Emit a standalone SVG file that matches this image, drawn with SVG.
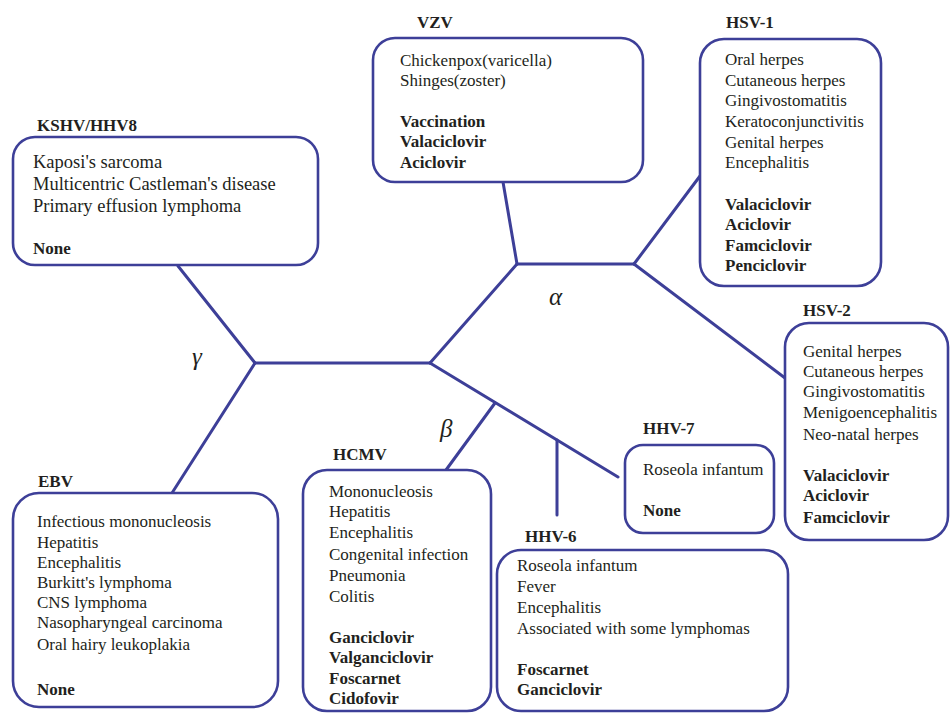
<svg xmlns="http://www.w3.org/2000/svg" width="951" height="714" viewBox="0 0 951 714">
<defs>
<style>
  .box { fill: #ffffff; stroke: #3d3f98; stroke-width: 2.6; }
  .edge { stroke: #3d3f98; stroke-width: 3; fill: none; stroke-linecap: round; }
</style>
</defs>
<rect width="951" height="714" fill="#ffffff"/>

<g id="connectors">
  <line class="edge" x1="178" y1="266" x2="255" y2="363"/>
  <line class="edge" x1="255" y1="363" x2="172" y2="493"/>
  <line class="edge" x1="255" y1="363" x2="430" y2="363"/>
  <line class="edge" x1="430" y1="363" x2="517" y2="264"/>
  <line class="edge" x1="517" y1="264" x2="503" y2="182"/>
  <line class="edge" x1="517" y1="264" x2="634" y2="264"/>
  <line class="edge" x1="634" y1="264" x2="700" y2="176"/>
  <line class="edge" x1="634" y1="264" x2="785" y2="378"/>
  <line class="edge" x1="430" y1="363" x2="618" y2="477"/>
  <line class="edge" x1="495" y1="403" x2="446" y2="470"/>
  <line class="edge" x1="557" y1="440" x2="557" y2="515"/>
</g>

<g id="greek-labels" fill="#231f20">
  <text x="192" y="365" font-family="Liberation Serif" font-size="25" font-style="italic">γ</text>
  <text x="549" y="305" font-family="Liberation Serif" font-size="25" font-style="italic">α</text>
  <text x="440" y="437" font-family="Liberation Serif" font-size="25" font-style="italic">β</text>
</g>

<g id="kshv" fill="#231f20">
  <text x="37" y="131" font-family="Liberation Serif" font-size="17" font-weight="bold">KSHV/HHV8</text>
  <rect class="box" x="13" y="137" width="305" height="128" rx="22"/>
  <text x="33" y="168" font-family="Liberation Serif" font-size="18.5">Kaposi's sarcoma</text>
  <text x="33" y="190" font-family="Liberation Serif" font-size="18.5">Multicentric Castleman's disease</text>
  <text x="33" y="212" font-family="Liberation Serif" font-size="18.5">Primary effusion lymphoma</text>
  <text x="33" y="254" font-family="Liberation Serif" font-size="17" font-weight="bold">None</text>
</g>

<g id="vzv" fill="#231f20">
  <text x="417" y="28" font-family="Liberation Serif" font-size="17" font-weight="bold">VZV</text>
  <rect class="box" x="373" y="38" width="270" height="144" rx="22"/>
  <text x="400" y="66" font-family="Liberation Serif" font-size="17">Chickenpox(varicella)</text>
  <text x="400" y="86" font-family="Liberation Serif" font-size="17">Shinges(zoster)</text>
  <text x="400" y="127" font-family="Liberation Serif" font-size="17" font-weight="bold">Vaccination</text>
  <text x="400" y="147" font-family="Liberation Serif" font-size="17" font-weight="bold">Valaciclovir</text>
  <text x="400" y="168" font-family="Liberation Serif" font-size="17" font-weight="bold">Aciclovir</text>
</g>

<g id="hsv1" fill="#231f20">
  <text x="726" y="28" font-family="Liberation Serif" font-size="17" font-weight="bold">HSV-1</text>
  <rect class="box" x="700" y="39" width="181" height="247" rx="24"/>
  <text x="725" y="65" font-family="Liberation Serif" font-size="17">Oral herpes</text>
  <text x="725" y="86" font-family="Liberation Serif" font-size="17">Cutaneous herpes</text>
  <text x="725" y="106" font-family="Liberation Serif" font-size="17">Gingivostomatitis</text>
  <text x="725" y="127" font-family="Liberation Serif" font-size="17">Keratoconjunctivitis</text>
  <text x="725" y="148" font-family="Liberation Serif" font-size="17">Genital herpes</text>
  <text x="725" y="168" font-family="Liberation Serif" font-size="17">Encephalitis</text>
  <text x="725" y="210" font-family="Liberation Serif" font-size="17" font-weight="bold">Valaciclovir</text>
  <text x="725" y="230" font-family="Liberation Serif" font-size="17" font-weight="bold">Aciclovir</text>
  <text x="725" y="251" font-family="Liberation Serif" font-size="17" font-weight="bold">Famciclovir</text>
  <text x="725" y="271" font-family="Liberation Serif" font-size="17" font-weight="bold">Penciclovir</text>
</g>

<g id="hsv2" fill="#231f20">
  <text x="803" y="316" font-family="Liberation Serif" font-size="17" font-weight="bold">HSV-2</text>
  <rect class="box" x="785" y="323" width="163" height="217" rx="24"/>
  <text x="803" y="357" font-family="Liberation Serif" font-size="17">Genital herpes</text>
  <text x="803" y="377" font-family="Liberation Serif" font-size="17">Cutaneous herpes</text>
  <text x="803" y="397" font-family="Liberation Serif" font-size="17">Gingivostomatitis</text>
  <text x="803" y="418" font-family="Liberation Serif" font-size="17">Menigoencephalitis</text>
  <text x="803" y="440" font-family="Liberation Serif" font-size="17">Neo-natal herpes</text>
  <text x="803" y="481" font-family="Liberation Serif" font-size="17" font-weight="bold">Valaciclovir</text>
  <text x="803" y="501" font-family="Liberation Serif" font-size="17" font-weight="bold">Aciclovir</text>
  <text x="803" y="523" font-family="Liberation Serif" font-size="17" font-weight="bold">Famciclovir</text>
</g>

<g id="hhv7" fill="#231f20">
  <text x="643" y="434" font-family="Liberation Serif" font-size="17" font-weight="bold">HHV-7</text>
  <rect class="box" x="625" y="445" width="149" height="88" rx="18"/>
  <text x="643" y="475" font-family="Liberation Serif" font-size="17">Roseola infantum</text>
  <text x="643" y="516" font-family="Liberation Serif" font-size="17" font-weight="bold">None</text>
</g>

<g id="hhv6" fill="#231f20">
  <text x="525" y="542" font-family="Liberation Serif" font-size="17" font-weight="bold">HHV-6</text>
  <rect class="box" x="497" y="550" width="291" height="161" rx="24"/>
  <text x="517" y="571" font-family="Liberation Serif" font-size="17">Roseola infantum</text>
  <text x="517" y="592" font-family="Liberation Serif" font-size="17">Fever</text>
  <text x="517" y="613" font-family="Liberation Serif" font-size="17">Encephalitis</text>
  <text x="517" y="634" font-family="Liberation Serif" font-size="17">Associated with some lymphomas</text>
  <text x="517" y="675" font-family="Liberation Serif" font-size="17" font-weight="bold">Foscarnet</text>
  <text x="517" y="695" font-family="Liberation Serif" font-size="17" font-weight="bold">Ganciclovir</text>
</g>

<g id="hcmv" fill="#231f20">
  <text x="333" y="460" font-family="Liberation Serif" font-size="17" font-weight="bold">HCMV</text>
  <rect class="box" x="303" y="470" width="188" height="241" rx="24"/>
  <text x="329" y="497" font-family="Liberation Serif" font-size="17">Mononucleosis</text>
  <text x="329" y="517" font-family="Liberation Serif" font-size="17">Hepatitis</text>
  <text x="329" y="538" font-family="Liberation Serif" font-size="17">Encephalitis</text>
  <text x="329" y="560" font-family="Liberation Serif" font-size="17">Congenital infection</text>
  <text x="329" y="581" font-family="Liberation Serif" font-size="17">Pneumonia</text>
  <text x="329" y="602" font-family="Liberation Serif" font-size="17">Colitis</text>
  <text x="329" y="643" font-family="Liberation Serif" font-size="17" font-weight="bold">Ganciclovir</text>
  <text x="329" y="663" font-family="Liberation Serif" font-size="17" font-weight="bold">Valganciclovir</text>
  <text x="329" y="684" font-family="Liberation Serif" font-size="17" font-weight="bold">Foscarnet</text>
  <text x="329" y="704" font-family="Liberation Serif" font-size="17" font-weight="bold">Cidofovir</text>
</g>

<g id="ebv" fill="#231f20">
  <text x="38" y="487" font-family="Liberation Serif" font-size="17" font-weight="bold">EBV</text>
  <rect class="box" x="13" y="493" width="265" height="214" rx="26"/>
  <text x="37" y="527" font-family="Liberation Serif" font-size="17">Infectious mononucleosis</text>
  <text x="37" y="548" font-family="Liberation Serif" font-size="17">Hepatitis</text>
  <text x="37" y="568" font-family="Liberation Serif" font-size="17">Encephalitis</text>
  <text x="37" y="588" font-family="Liberation Serif" font-size="17">Burkitt's lymphoma</text>
  <text x="37" y="608" font-family="Liberation Serif" font-size="17">CNS lymphoma</text>
  <text x="37" y="628" font-family="Liberation Serif" font-size="17">Nasopharyngeal carcinoma</text>
  <text x="37" y="650" font-family="Liberation Serif" font-size="17">Oral hairy leukoplakia</text>
  <text x="37" y="695" font-family="Liberation Serif" font-size="17" font-weight="bold">None</text>
</g>
</svg>
